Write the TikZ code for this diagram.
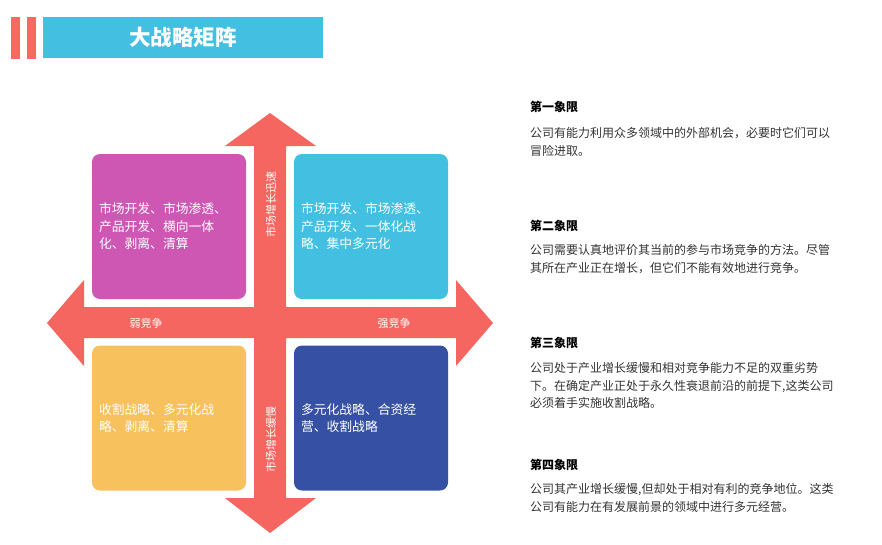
\documentclass[tikz,border=0pt]{standalone}
\usepackage{fontspec}
\setmainfont{Noto Sans CJK SC}
\usepackage{xcolor}
\definecolor{crossred}{HTML}{F4665F}
\definecolor{barred}{HTML}{F76A61}
\definecolor{headblue}{HTML}{43BFE1}
\definecolor{quadpurple}{HTML}{CD57B3}
\definecolor{quadcyan}{HTML}{43BFE1}
\definecolor{quadyellow}{HTML}{F7C15D}
\definecolor{quadnavy}{HTML}{3651A3}
\definecolor{bodygray}{HTML}{333333}

\begin{document}
\begin{tikzpicture}[x=1pt,y=-1pt,
    quad/.style={minimum width=154pt,minimum height=145pt,text width=140pt,
      inner sep=0pt,align=left,rounded corners=8pt,text=white,
      font=\fontsize{12.8}{17.5}\selectfont},
    axislabel/.style={text=white,inner sep=0pt,font=\fontsize{11}{12}\selectfont},
    quadhead/.style={anchor=west,inner sep=0pt,font=\fontsize{12}{14}\selectfont\bfseries},
    quadbody/.style={anchor=north west,inner sep=0pt,align=left,text=bodygray,
      font=\fontsize{12}{17.5}\selectfont}]

  \useasboundingbox (0,0) rectangle (882,544);

  % Title
  \fill[barred] (11,17) rectangle (20,59);
  \fill[barred] (27,17) rectangle (36,59);
  \node[fill=headblue,minimum width=280pt,minimum height=41pt,inner sep=0pt,
    text=white,font=\fontsize{21.5}{24}\selectfont\bfseries] (title) at (183,37.5) {大战略矩阵};

  % Cross arrows
  \fill[crossred] (270,113) -- (316,146) -- (286,146) -- (286,307) -- (456,307)
    -- (456,280) -- (493,323) -- (456,366) -- (456,338) -- (286,338)
    -- (286,498) -- (316,498) -- (270,533) -- (225,498) -- (254,498)
    -- (254,338) -- (84,338) -- (84,366) -- (47,323) -- (84,280)
    -- (84,307) -- (254,307) -- (254,146) -- (225,146) -- cycle;

  % Axis labels
  \node[axislabel] (weak) at (146,323) {弱竞争};
  \node[axislabel] (strong) at (394,323) {强竞争};
  \node[axislabel,rotate=90] (fast) at (271,204) {市场增长迅速};
  \node[axislabel,rotate=90] (slow) at (271,439) {市场增长缓慢};

  % Quadrants
  \node[quad,fill=quadpurple] (q2) at (169,226.5) {市场开发、市场渗透、\\产品开发、横向一体\\化、剥离、清算};
  \node[quad,fill=quadcyan] (q1) at (371,226.5) {市场开发、市场渗透、\\产品开发、一体化战\\略、集中多元化};
  \node[quad,fill=quadyellow] (q3) at (169,418) {收割战略、多元化战\\略、剥离、清算};
  \node[quad,fill=quadnavy] (q4) at (371,418) {多元化战略、合资经\\营、收割战略};

  % Descriptions
  \node[quadhead] (h1) at (530,107) {第一象限};
  \node[quadbody] (b1) at (530,127.5) {公司有能力利用众多领域中的外部机会，必要时它们可以\\冒险进取。};
  \node[quadhead] (h2) at (530,226) {第二象限};
  \node[quadbody] (b2) at (530,244.5) {公司需要认真地评价其当前的参与市场竞争的方法。尽管\\其所在产业正在增长，但它们不能有效地进行竞争。};
  \node[quadhead] (h3) at (530,343) {第三象限};
  \node[quadbody] (b3) at (530,362.5) {公司处于产业增长缓慢和相对竞争能力不足的双重劣势\\下。在确定产业正处于永久性衰退前沿的前提下,这类公司\\必须着手实施收割战略。};
  \node[quadhead] (h4) at (530,465) {第四象限};
  \node[quadbody] (b4) at (530,483.5) {公司其产业增长缓慢,但却处于相对有利的竞争地位。这类\\公司有能力在有发展前景的领域中进行多元经营。};

\end{tikzpicture}
\end{document}
